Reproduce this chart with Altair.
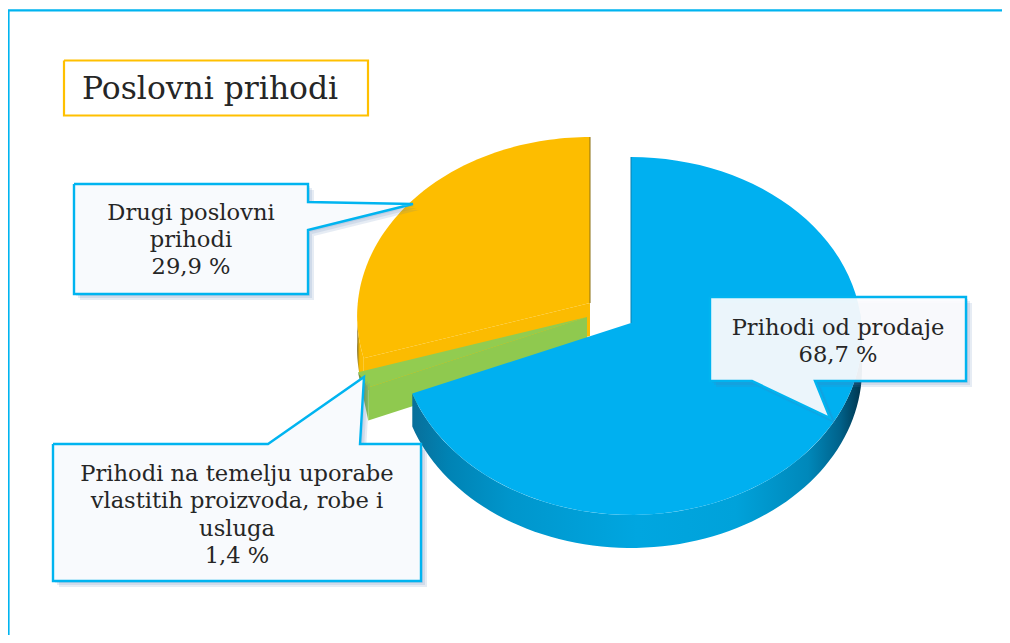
import math
import altair as alt
import pandas as pd

# chart values
shares = [68.7, 1.4, 29.9]          # clockwise from 12 o'clock: sales, own use, other
title_text = "Poslovni prihodi"
label_lines = [
    ["Prihodi od prodaje", "68,7 %"],
    ["Prihodi na temelju uporabe", "vlastitih proizvoda, robe i", "usluga", "1,4 %"],
    ["Drugi poslovni", "prihodi", "29,9 %"],
]

# view of the tilted pie
RX, RY, K, DEPTH = 230.4, 178.0, 0.0726, 33
BLUE_APEX, GREEN_APEX, YELLOW_APEX = (631, 323), (587, 317), (590, 303)
SERIF = "DejaVu Serif"

t_blue = shares[0] * 3.6
t_green = t_blue + shares[1] * 3.6
TEXT = "#262626"


def rim(apex, deg, dy=0, grow=1.0):
    a = math.radians(deg)
    X, Y = math.sin(a), -math.cos(a)
    w = 1 - K * Y
    return (apex[0] + grow * RX * X / w, apex[1] + RY * Y / w + dy)


def arc(apex, a, b, dy=0, n=80, grow=1.0):
    return [rim(apex, a + (b - a) * i / n, dy, grow) for i in range(n + 1)]


def down(p, dy=DEPTH):
    return (p[0], p[1] + dy)


X_SCALE = alt.Scale(domain=[8, 1002], range=[0, 994], nice=False, zero=False)
Y_SCALE = alt.Scale(domain=[8, 635], range=[0, 627], nice=False, zero=False)


def poly(points, fill="transparent", stroke="transparent", sw=0, opacity=1, closed=True):
    pts = list(points)
    if closed:
        pts = pts + [pts[0]]
    df = pd.DataFrame({"x": [p[0] for p in pts], "y": [p[1] for p in pts], "i": range(len(pts))})
    return alt.Chart(df).mark_line(
        fill=fill, stroke=stroke, strokeWidth=sw, opacity=opacity,
        strokeJoin="miter", interpolate="linear", clip=True,
    ).encode(
        x=alt.X("x:Q", scale=X_SCALE, axis=None),
        y=alt.Y("y:Q", scale=Y_SCALE, axis=None),
        order="i:Q",
    )


def grad(stops):
    return alt.Gradient(
        gradient="linear", x1=0, x2=1, y1=0, y2=0,
        stops=[alt.GradientStop(offset=o, color=c) for o, c in stops],
    )


def text(lines, cx, baselines, size, align="center"):
    df = pd.DataFrame({"t": lines, "x": [cx] * len(lines), "y": baselines})
    return alt.Chart(df).mark_text(
        font=SERIF, fontSize=size, color=TEXT, align=align, baseline="alphabetic",
    ).encode(
        x=alt.X("x:Q", scale=X_SCALE, axis=None),
        y=alt.Y("y:Q", scale=Y_SCALE, axis=None),
        text="t:N",
    )


def callout(pts, opacity=1.0, fill="#F8FAFD"):
    shadows = [poly([(x + d, y + d) for x, y in pts], fill="#4F78B0", opacity=0.14) for d in (2, 4, 6)]
    return shadows + [poly(pts, fill=fill, opacity=opacity), poly(pts, stroke="#00B4F0", sw=2.4)]


layers = []

# outer frame
layers.append(poly([(8.5, 635), (8.5, 10.3), (1002, 10.3)], stroke="#00B4F0", sw=2.2, closed=False))

# title box
layers.append(poly([(64, 60.5), (368, 60.5), (368, 115.5), (64, 115.5)], fill="white", stroke="#FFC000", sw=2.2))
layers.append(text([title_text], 82, [99], 31.4, align="left"))

# yellow slice
Y_GROW = 1.008
y_out = rim(YELLOW_APEX, t_green, 0, Y_GROW)
layers.append(poly(arc(YELLOW_APEX, t_green, 268, 0, 40, Y_GROW) + arc(YELLOW_APEX, 268, t_green, DEPTH, 40, Y_GROW),
                   fill=grad([(0, "#6E5C20"), (0.12, "#A88A18"), (0.4, "#FBBB00"), (1, "#FBBB00")])))
layers.append(poly([YELLOW_APEX, y_out, down(y_out), down(YELLOW_APEX)], fill="#FBBB01"))
layers.append(poly([YELLOW_APEX] + arc(YELLOW_APEX, t_green, 360, 0, 80, Y_GROW), fill="#FDBD00"))
layers.append(poly([rim(YELLOW_APEX, 360), YELLOW_APEX], stroke="#8A6E10", sw=1, closed=False))

# green slice
g_a, g_b = rim(GREEN_APEX, t_blue), rim(GREEN_APEX, t_green, 0, 1.02)
layers.append(poly([GREEN_APEX, g_a, down(g_a), down(GREEN_APEX)], fill="#8FC94F"))
layers.append(poly([GREEN_APEX, g_b, g_a], fill="#92CC50"))
layers.append(poly([g_b, down(g_a), g_a],
                   fill=grad([(0, "#6F8E48"), (0.55, "#7FA84A"), (1, "#90C850")])))

# blue slice
layers.append(poly(arc(BLUE_APEX, 86, t_blue) + arc(BLUE_APEX, t_blue, 86, DEPTH),
                   fill=grad([(0, "#086F9A"), (0.08, "#0083B4"), (0.22, "#0096CC"),
                              (0.5, "#00A6E0"), (0.72, "#00A2DA"), (0.88, "#0088BA"),
                              (0.95, "#00638C"), (1, "#00344C")])))
layers.append(poly([BLUE_APEX] + arc(BLUE_APEX, 0, t_blue), fill="#00B0F0"))
layers.append(poly([rim(BLUE_APEX, 0), BLUE_APEX], stroke="#0A7FAE", sw=1, closed=False))

# callouts
layers += callout([(74, 184), (308, 184), (308, 202), (413, 204), (308, 230), (308, 294), (74, 294)])
layers.append(text(label_lines[2], 191, [220, 247, 274], 22.6))

layers += callout([(53, 444), (268, 444), (364, 377), (360, 444), (421, 444), (421, 581), (53, 581)])
layers.append(text(label_lines[1], 237, [481, 508, 536, 563], 22.6))

layers += callout([(710, 297), (966, 297), (966, 381), (815, 381), (830, 418), (752, 381), (710, 381)],
                  opacity=0.92, fill="#FDFDFE")
layers.append(text(label_lines[0], 838, [335, 362], 22.6))

chart = alt.layer(*layers).properties(
    width=994, height=627, padding=0, autosize=alt.AutoSizeParams(type="none"),
    background="white",
).configure_view(stroke=None)

chart.save("out.html", embed_options={"renderer": "svg", "actions": False})
